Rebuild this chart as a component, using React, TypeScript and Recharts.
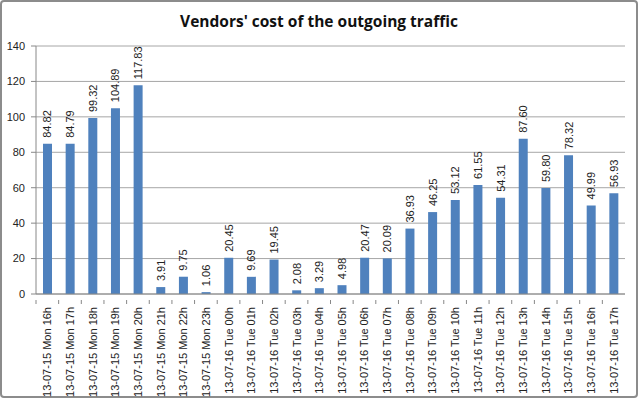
import React from 'react';
import { BarChart, Bar, XAxis, YAxis, CartesianGrid, LabelList } from 'recharts';

const categories = [
  '13-07-15 Mon 16h', '13-07-15 Mon 17h', '13-07-15 Mon 18h', '13-07-15 Mon 19h',
  '13-07-15 Mon 20h', '13-07-15 Mon 21h', '13-07-15 Mon 22h', '13-07-15 Mon 23h',
  '13-07-16 Tue 00h', '13-07-16 Tue 01h', '13-07-16 Tue 02h', '13-07-16 Tue 03h',
  '13-07-16 Tue 04h', '13-07-16 Tue 05h', '13-07-16 Tue 06h', '13-07-16 Tue 07h',
  '13-07-16 Tue 08h', '13-07-16 Tue 09h', '13-07-16 Tue 10h', '13-07-16 Tue 11h',
  '13-07-16 Tue 12h', '13-07-16 Tue 13h', '13-07-16 Tue 14h', '13-07-16 Tue 15h',
  '13-07-16 Tue 16h', '13-07-16 Tue 17h',
];
const costs = [
  84.82, 84.79, 99.32, 104.89, 117.83, 3.91, 9.75, 1.06,
  20.45, 9.69, 19.45, 2.08, 3.29, 4.98, 20.47, 20.09,
  36.93, 46.25, 53.12, 61.55, 54.31, 87.6, 59.8, 78.32, 49.99, 56.93,
];
const yTicks = [0, 20, 40, 60, 80, 100, 120, 140];
const title = "Vendors' cost of the outgoing traffic";

const data = categories.map((c, i) => ({ name: c, value: costs[i] }));

const W = 638;
const H = 398;
const M = { top: 46, right: 13, left: 0, bottom: 0 };
const Y_W = 36;
const X_H = 104;
const band = (W - M.right - Y_W) / categories.length;

const XTick = (props: any) => {
  const { x, y, payload } = props;
  return (
    <g>
      <line x1={x - band / 2} x2={x - band / 2} y1={y - 2} y2={y + 2} stroke="#888" />
      <text
        x={x}
        y={y + 5}
        transform={`rotate(-90, ${x}, ${y + 5})`}
        textAnchor="end"
        dominantBaseline="central"
        fontSize={11}
        fill="#222"
        fontFamily="Liberation Sans, Arial, sans-serif"
      >
        {payload.value}
      </text>
    </g>
  );
};

const BarLabel = (props: any) => {
  const { x, y, width, value } = props;
  const cx = x + width / 2;
  const ty = y - 6;
  return (
    <text
      x={cx}
      y={ty}
      transform={`rotate(-90, ${cx}, ${ty})`}
      textAnchor="start"
      dominantBaseline="central"
      fontSize={11}
      fill="#222"
      fontFamily="Liberation Sans, Arial, sans-serif"
    >
      {Number(value).toFixed(2)}
    </text>
  );
};

export default function App() {
  return (
    <div
      style={{
        position: 'absolute',
        left: 0,
        top: 0,
        width: W,
        height: H,
        background: '#fff',
      }}
    >
      <div
        style={{
          position: 'absolute',
          left: 0,
          top: 0,
          width: W - 4,
          height: H - 4,
          border: '2px solid #8c8c8c',
          borderRadius: 4,
          pointerEvents: 'none',
        }}
      />
      <div
        style={{
          position: 'absolute',
          left: 0,
          top: 10,
          width: W,
          textAlign: 'center',
          fontFamily: 'Open Sans, Liberation Sans, sans-serif',
          fontWeight: 700,
          fontSize: 15.5,
          color: '#111',
        }}
      >
        {title}
      </div>
      <BarChart width={W} height={H} data={data} margin={M} barSize={9}>
        <CartesianGrid vertical={false} stroke="#a6a6a6" />
        <XAxis
          dataKey="name"
          interval={0}
          height={X_H}
          tick={<XTick />}
          tickLine={false}
          axisLine={{ stroke: '#888' }}
        />
        <YAxis
          width={Y_W}
          domain={[0, 140]}
          ticks={yTicks}
          interval={0}
          tickSize={5}
          tickLine={{ stroke: '#888' }}
          axisLine={{ stroke: '#888' }}
          tick={{ fontSize: 11, fill: '#222', fontFamily: 'Liberation Sans, Arial, sans-serif', dx: -4 }}
        />
        <Bar dataKey="value" fill="#4F81BD" isAnimationActive={false}>
          <LabelList dataKey="value" content={<BarLabel />} />
        </Bar>
      </BarChart>
    </div>
  );
}
